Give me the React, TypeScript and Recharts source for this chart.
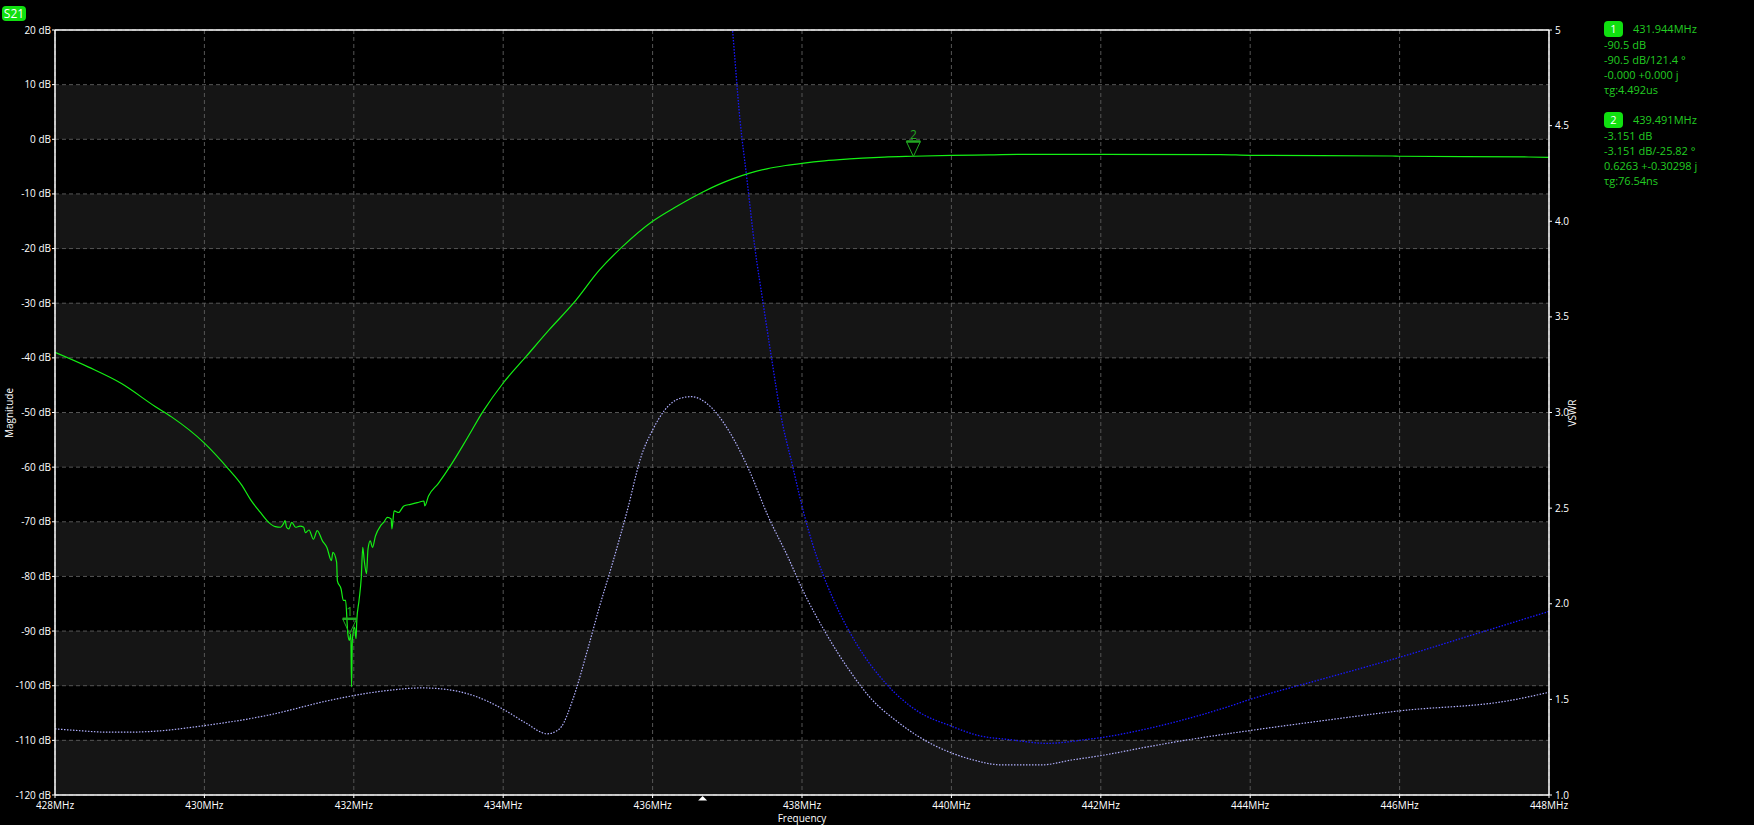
import React from 'react';
import { LineChart, Line, XAxis, YAxis, CartesianGrid, ReferenceLine, ReferenceDot } from 'recharts';

// ---- S21 magnitude (left axis, dB)
const s21Freq = [
  428.0, 428.45, 428.89, 429.34, 429.56, 430.0, 430.32, 430.5, 430.62, 430.75, 430.86, 430.95,
  431.02, 431.06, 431.08, 431.1, 431.13, 431.17, 431.22, 431.28, 431.33, 431.35, 431.4, 431.46,
  431.51, 431.58, 431.64, 431.7, 431.72, 431.77, 431.78, 431.83, 431.86, 431.89, 431.92, 431.94,
  431.96, 431.97, 431.98, 432.01, 432.03, 432.04, 432.07, 432.1, 432.12, 432.14, 432.17, 432.19,
  432.22, 432.25, 432.29, 432.36, 432.4, 432.45, 432.5, 432.51, 432.54, 432.6, 432.67, 432.76,
  432.85, 432.94, 432.95, 433.0, 433.13, 433.31, 433.51, 433.73, 434.0, 434.31, 434.62, 434.94,
  435.29, 435.6, 436.0, 436.32, 436.68, 436.88, 437.08, 437.3, 437.53, 437.78, 438.0, 438.3,
  438.64, 438.81, 439.1, 439.49, 440.0, 440.5, 440.99, 442.0, 443.6, 444.0, 445.9, 446.0,
  447.73, 448.0,
];
const s21Mag = [
  -39.0, -41.7, -44.7, -48.9, -50.8, -55.6, -60.3, -63.3, -66.0, -68.3, -70.1, -70.9,
  -71.0, -70.3, -69.8, -71.0, -71.3, -70.1, -71.0, -70.8, -71.0, -72.0, -71.5, -73.2,
  -71.6, -73.5, -74.7, -77.1, -75.6, -77.4, -80.8, -82.3, -84.4, -84.4, -90.5, -91.7,
  -90.5, -100.2, -91.7, -89.3, -91.4, -88.1, -84.4, -80.2, -74.7, -77.1, -79.5, -75.0,
  -73.5, -74.7, -72.6, -70.7, -70.1, -69.2, -69.5, -71.3, -68.0, -68.3, -67.1, -66.8,
  -66.5, -66.2, -67.1, -65.3, -63.0, -59.4, -54.9, -49.8, -44.6, -39.7, -34.8, -30.0,
  -23.9, -19.6, -15.0, -12.3, -9.6, -8.3, -7.2, -6.2, -5.4, -4.8, -4.4, -3.95,
  -3.6, -3.45, -3.25, -3.1, -2.94, -2.85, -2.75, -2.75, -2.8, -2.94, -3.06, -3.1,
  -3.24, -3.3,
];

// ---- lavender dotted trace (left axis, dB)
const lavFreq = [
  428.0, 428.3, 428.7, 429.0, 429.31, 430.0, 430.85, 431.67, 432.0, 432.5, 432.91, 433.3,
  433.6, 434.0, 434.3, 434.59, 434.7, 434.78, 434.93, 435.14, 435.29, 435.45, 435.65, 435.86,
  436.0, 436.16, 436.37, 436.52, 436.78, 437.04, 437.29, 437.55, 437.81, 438.01, 438.32, 438.63,
  438.94, 439.25, 439.56, 440.0, 440.27, 440.68, 441.2, 441.61, 442.0, 442.66, 443.17, 444.0,
  444.97, 446.0, 447.48, 448.0,
];
const lavMag = [
  -107.9, -108.2, -108.5, -108.5, -108.35, -107.3, -105.4, -102.7, -101.8, -100.8, -100.4, -100.8,
  -101.8, -104.3, -106.8, -108.8, -108.4, -107.5, -102.6, -92.9, -85.5, -78.2, -68.5, -57.5,
  -53.2, -49.6, -47.4, -47.1, -49.0, -53.8, -60.5, -69.1, -76.4, -82.5, -90.4, -97.1,
  -102.6, -106.3, -109.3, -112.3, -113.5, -114.5, -114.5, -113.6, -112.8, -111.1, -109.9, -108.2,
  -106.4, -104.6, -102.7, -101.2,
];

// ---- VSWR (right axis)
const vswrFreq = [
  436.98, 437.07, 437.17, 437.26, 437.37, 437.48, 437.59, 437.71, 437.88, 438.04, 438.21, 438.47,
  438.73, 439.13, 439.54, 440.0, 440.37, 440.77, 441.29, 441.8, 442.0, 442.66, 443.17, 443.69,
  444.0, 445.0, 446.0, 447.0, 448.0,
];
const vswrVal = [
  5.4, 5.0, 4.53, 4.23, 3.86, 3.57, 3.29, 3.0, 2.71, 2.45, 2.23, 1.98,
  1.79, 1.58, 1.44, 1.36, 1.31, 1.29, 1.27, 1.29, 1.3, 1.35, 1.4, 1.46,
  1.5, 1.61, 1.72, 1.84, 1.96,
];

// ---- axes ticks
const freqTicks = [428, 430, 432, 434, 436, 438, 440, 442, 444, 446, 448];
const dbTicks = [-120, -110, -100, -90, -80, -70, -60, -50, -40, -30, -20, -10, 0, 10, 20];
const vswrTicks = [1.0, 1.5, 2.0, 2.5, 3.0, 3.5, 4.0, 4.5, 5.0];

// ---- markers
const markerIds = ['1', '2'];
const markerFreq = [431.944, 439.491];
const markerMag = [-90.5, -3.151];
const markerLines = [
  ['431.944MHz', '-90.5 dB', '-90.5 dB/121.4 °', '-0.000 +0.000 j', 'τg:4.492us'],
  ['439.491MHz', '-3.151 dB', '-3.151 dB/-25.82 °', '0.6263 +-0.30298 j', 'τg:76.54ns'],
];
const centerMarkFreq = 436.67;

const s21Data = s21Freq.map((f, i) => ({ f, v: s21Mag[i] }));
const lavData = lavFreq.map((f, i) => ({ f, v: lavMag[i] }));
const vswrData = vswrFreq.map((f, i) => ({ f, v: vswrVal[i] }));

const FONT = '"Open Sans", "Noto Sans", "DejaVu Sans", sans-serif';
const MK = '#22a822';

const makeMarkerShape = (label: string) => (props: any) => {
  const { cx, cy } = props;
  if (cx == null || cy == null) return <g />;
  return (
    <g>
      <path d={`M${cx - 7},${cy - 15} L${cx + 7},${cy - 15} L${cx},${cy} Z`} fill="none" stroke={MK} strokeWidth={1} />
      <line x1={cx - 7} x2={cx + 7} y1={cy - 15} y2={cy - 15} stroke={MK} strokeWidth={2.5} />
      <text x={cx} y={cy - 18} textAnchor="middle" fill={MK} fontSize={12} fontFamily={FONT}>{label}</text>
    </g>
  );
};

const CenterMarkShape = (props: any) => {
  const { cx, cy } = props;
  if (cx == null || cy == null) return <g />;
  return <path d={`M${cx},${cy + 1} L${cx + 4.5},${cy + 5.5} L${cx - 4.5},${cy + 5.5} Z`} fill="#ffffff" />;
};

const tickStyle = { fill: '#ffffff', fontSize: 10, fontFamily: FONT };

export default function App() {
  return (
    <div style={{ position: 'absolute', left: 0, top: 0, width: 1754, height: 825, background: '#000', fontFamily: FONT, overflow: 'hidden' }}>
      <LineChart width={1754} height={825} margin={{ top: 30, right: 145, bottom: 0, left: 0 }}>
        <CartesianGrid
          yAxisId="left"
          stroke="#555555"
          strokeDasharray="4 3"
          horizontalFill={['#000000', '#151515']}
          fillOpacity={1}
        />
        <XAxis
          dataKey="f"
          type="number"
          domain={[428, 448]}
          ticks={freqTicks}
          tickFormatter={(v: number) => `${v}MHz`}
          allowDataOverflow
          height={30}
          stroke="#ffffff"
          axisLine={{ stroke: '#ffffff', strokeWidth: 1.5 }}
          tickLine={{ stroke: '#ffffff' }}
          tickSize={3}
          tickMargin={4}
          tick={tickStyle}
          interval={0}
        />
        <YAxis
          yAxisId="left"
          orientation="left"
          type="number"
          domain={[-120, 20]}
          ticks={dbTicks}
          tickFormatter={(v: number) => `${v} dB`}
          allowDataOverflow
          width={55}
          axisLine={{ stroke: '#ffffff', strokeWidth: 1.5 }}
          tickLine={{ stroke: '#ffffff' }}
          tickSize={3}
          tickMargin={1}
          tick={tickStyle}
          interval={0}
        />
        <YAxis
          yAxisId="right"
          orientation="right"
          type="number"
          domain={[1, 5]}
          ticks={vswrTicks}
          tickFormatter={(v: number) => (v === 5 ? '5' : v.toFixed(1))}
          allowDataOverflow
          width={60}
          axisLine={{ stroke: '#ffffff', strokeWidth: 1.5 }}
          tickLine={{ stroke: '#ffffff' }}
          tickSize={3}
          tickMargin={3}
          tick={tickStyle}
          interval={0}
        />
        <ReferenceLine yAxisId="left" y={20} stroke="#ffffff" strokeWidth={1.5} />
        <Line
          data={lavData}
          dataKey="v"
          yAxisId="left"
          type="monotone"
          stroke="#b0b0ff"
          strokeWidth={1.2}
          strokeDasharray="1.5 1.5"
          dot={false}
          isAnimationActive={false}
        />
        <Line
          data={vswrData}
          dataKey="v"
          yAxisId="right"
          type="monotone"
          stroke="#1818ff"
          strokeWidth={1.3}
          strokeDasharray="1.5 1.5"
          dot={false}
          isAnimationActive={false}
        />
        <Line
          data={s21Data}
          dataKey="v"
          yAxisId="left"
          type="monotone"
          stroke="#14f014"
          strokeWidth={1.2}
          dot={false}
          isAnimationActive={false}
        />
        {markerIds.map((id, i) => (
          <ReferenceDot
            key={id}
            yAxisId="left"
            x={markerFreq[i]}
            y={markerMag[i]}
            ifOverflow="visible"
            shape={makeMarkerShape(id)}
          />
        ))}
        <ReferenceDot yAxisId="left" x={centerMarkFreq} y={-120} ifOverflow="visible" shape={CenterMarkShape} />
      </LineChart>

      {/* S21 badge */}
      <div style={{ position: 'absolute', left: 2, top: 6, width: 24, height: 15, borderRadius: 4, background: '#10e010', color: '#ffffff', fontSize: 12, lineHeight: '15px', textAlign: 'center' }}>S21</div>

      {/* axis titles */}
      <div style={{ position: 'absolute', left: 9, top: 413, transform: 'translate(-50%, -50%) rotate(-90deg)', color: '#ffffff', fontSize: 10, whiteSpace: 'nowrap' }}>Magnitude</div>
      <div style={{ position: 'absolute', left: 1572, top: 413, transform: 'translate(-50%, -50%) rotate(-90deg)', color: '#ffffff', fontSize: 10, whiteSpace: 'nowrap' }}>VSWR</div>
      <div style={{ position: 'absolute', left: 802, top: 813, transform: 'translateX(-50%)', color: '#ffffff', fontSize: 10, lineHeight: '11px', whiteSpace: 'nowrap' }}>Frequency</div>

      {/* marker read-outs */}
      {markerIds.map((id, i) => (
        <div key={id} style={{ position: 'absolute', left: 1604, top: 20 + i * 91, color: '#22cc22', fontSize: 11, lineHeight: '15px', whiteSpace: 'nowrap' }}>
          <div style={{ display: 'flex', alignItems: 'center', height: 17 }}>
            <span style={{ display: 'inline-block', width: 19, height: 16, borderRadius: 4, background: '#10e010', color: '#ffffff', textAlign: 'center', lineHeight: '16px', marginRight: 10 }}>{id}</span>
            <span>{markerLines[i][0]}</span>
          </div>
          {markerLines[i].slice(1).map((t, j) => (
            <div key={j}>{t}</div>
          ))}
        </div>
      ))}
    </div>
  );
}
